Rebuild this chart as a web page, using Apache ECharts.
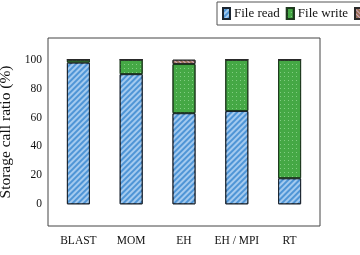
<!DOCTYPE html>
<html>
<head>
<meta charset="utf-8">
<script src="https://cdn.jsdelivr.net/npm/echarts@6/dist/echarts.min.js"></script>
<style>
  html, body { margin: 0; padding: 0; background: #fff; }
  #chart { width: 360px; height: 255px; }
</style>
</head>
<body>
<div id="chart"></div>
<script>
const apps = ['BLAST', 'MOM', 'EH', 'EH / MPI', 'RT']
const fileRead = [98, 90, 63, 64.5, 18]
const fileWrite = [2, 10, 34, 35.5, 82]
const fileOther = [0, 0, 3, 0, 0]
const yTicks = [0, 20, 40, 60, 80, 100]

const serif = '"Liberation Serif", "DejaVu Serif", serif'
const chart = echarts.init(document.getElementById('chart'))

chart.setOption({
  animation: false,
  textStyle: { fontFamily: serif },
  legend: {
    data: ['File read', 'File write', 'Metadata'],
    orient: 'horizontal',
    left: 217,
    top: 2,
    width: 400,
    padding: [5, 5, 5, 5],
    itemGap: 6,
    itemWidth: 7,
    itemHeight: 11,
    icon: 'rect',
    borderColor: '#555',
    borderWidth: 1,
    textStyle: { fontFamily: serif, fontSize: 13, color: '#111', padding: [0, 0, 0, -1] }
  },
  grid: [
    // frame
    { left: 48, right: 40, top: 38, bottom: 29, show: true, borderColor: '#444', borderWidth: 1, outerBoundsMode: 'none', containLabel: false },
    // bars
    { left: 52, right: 44, top: 38, bottom: 29, outerBoundsMode: 'none', containLabel: false }
  ],
  xAxis: [
    { gridIndex: 0, type: 'value', min: 0, max: 1, show: false },
    {
      gridIndex: 1,
      type: 'category',
      data: apps,
      axisLine: { show: false },
      axisTick: { show: true, inside: true, alignWithLabel: true, length: 3, lineStyle: { color: '#ddd' } },
      axisLabel: { interval: 0, hideOverlap: false, margin: 9, fontSize: 11.5, color: '#111', fontFamily: serif }
    }
  ],
  yAxis: [
    {
      gridIndex: 0,
      type: 'value',
      min: -15,
      max: 115,
      interval: 20,
      axisLine: { show: false },
      axisTick: { show: false },
      splitLine: { show: false },
      axisLabel: {
        margin: 6,
        fontSize: 11.5,
        color: '#111',
        fontFamily: serif,
        customValues: yTicks
      },
      name: 'Storage call ratio (%)',
      nameLocation: 'middle',
      nameGap: 33,
      nameTextStyle: { fontSize: 15.5, color: '#111', fontFamily: serif }
    },
    { gridIndex: 1, type: 'value', min: -15, max: 115, show: false }
  ],
  series: [
    {
      name: 'File read',
      type: 'bar',
      stack: 'calls',
      xAxisIndex: 1,
      yAxisIndex: 1,
      barWidth: 23,
      data: fileRead,
      itemStyle: {
        color: '#4f95d6',
        borderColor: '#1c2530',
        borderWidth: 1,
        decal: {
          symbol: 'rect',
          dashArrayX: [1, 0],
          dashArrayY: [1.5, 2],
          rotation: -Math.PI / 4,
          color: 'rgba(200,225,250,0.7)'
        }
      }
    },
    {
      name: 'File write',
      type: 'bar',
      stack: 'calls',
      xAxisIndex: 1,
      yAxisIndex: 1,
      barWidth: 23,
      data: fileWrite,
      itemStyle: {
        color: '#45a845',
        borderColor: '#1e3a1e',
        borderWidth: 1,
        decal: {
          symbol: 'rect',
          symbolSize: 1,
          dashArrayX: [[1, 3]],
          dashArrayY: [1, 3],
          color: 'rgba(170,230,170,0.6)'
        }
      }
    },
    {
      name: 'Metadata',
      type: 'bar',
      stack: 'calls',
      xAxisIndex: 1,
      yAxisIndex: 1,
      barWidth: 23,
      data: fileOther,
      itemStyle: {
        color: '#9c7356',
        borderColor: '#2a2a2a',
        borderWidth: 1,
        decal: {
          symbol: 'rect',
          dashArrayX: [1, 0],
          dashArrayY: [1, 2],
          rotation: Math.PI / 4,
          color: 'rgba(230,190,240,0.7)'
        }
      }
    }
  ]
})
</script>
</body>
</html>
